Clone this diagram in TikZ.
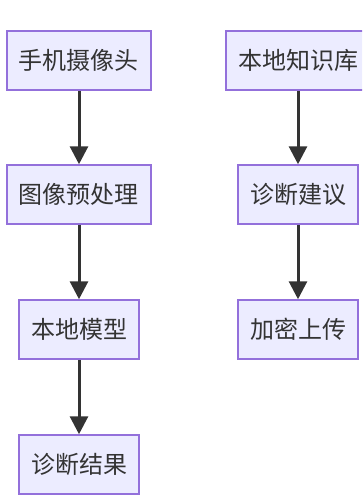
\documentclass[tikz,border=0pt]{standalone}
\usepackage{fontspec}
\newfontfamily\cjk{Noto Sans CJK SC}
\usetikzlibrary{arrows.meta}
\definecolor{boxfill}{HTML}{ECECFF}
\definecolor{boxline}{HTML}{9370DB}
\definecolor{ink}{HTML}{333333}
\begin{document}
\begin{tikzpicture}[
  x=1pt,
  y=-1pt,
  stage/.style={draw=boxline,line width=1.5pt,fill=boxfill,text=ink,
    font=\cjk\fontsize{24}{24}\selectfont,minimum height=59pt,inner sep=0pt},
  wide/.style={stage,minimum width=144pt},
  narrow/.style={stage,minimum width=120pt},
  flow/.style={draw=ink,line width=3pt,-{Triangle[length=18pt,width=18pt]}}
]
\useasboundingbox (0,0) rectangle (362,501);
\clip (0,0) rectangle (362,501);
\node[wide] (camera) at (79,60.5) {手机摄像头};
\node[wide] (preproc) at (79,194.5) {图像预处理};
\node[narrow] (model) at (79,329.5) {本地模型};
\node[narrow] (result) at (79,464.5) {诊断结果};
\node[wide] (kb) at (298,60.5) {本地知识库};
\node[narrow] (advice) at (298,194.5) {诊断建议};
\node[narrow] (upload) at (298,329.5) {加密上传};
\draw[flow] (camera) -- (preproc);
\draw[flow] (preproc) -- (model);
\draw[flow] (model) -- (result);
\draw[flow] (kb) -- (advice);
\draw[flow] (advice) -- (upload);
\end{tikzpicture}
\end{document}
